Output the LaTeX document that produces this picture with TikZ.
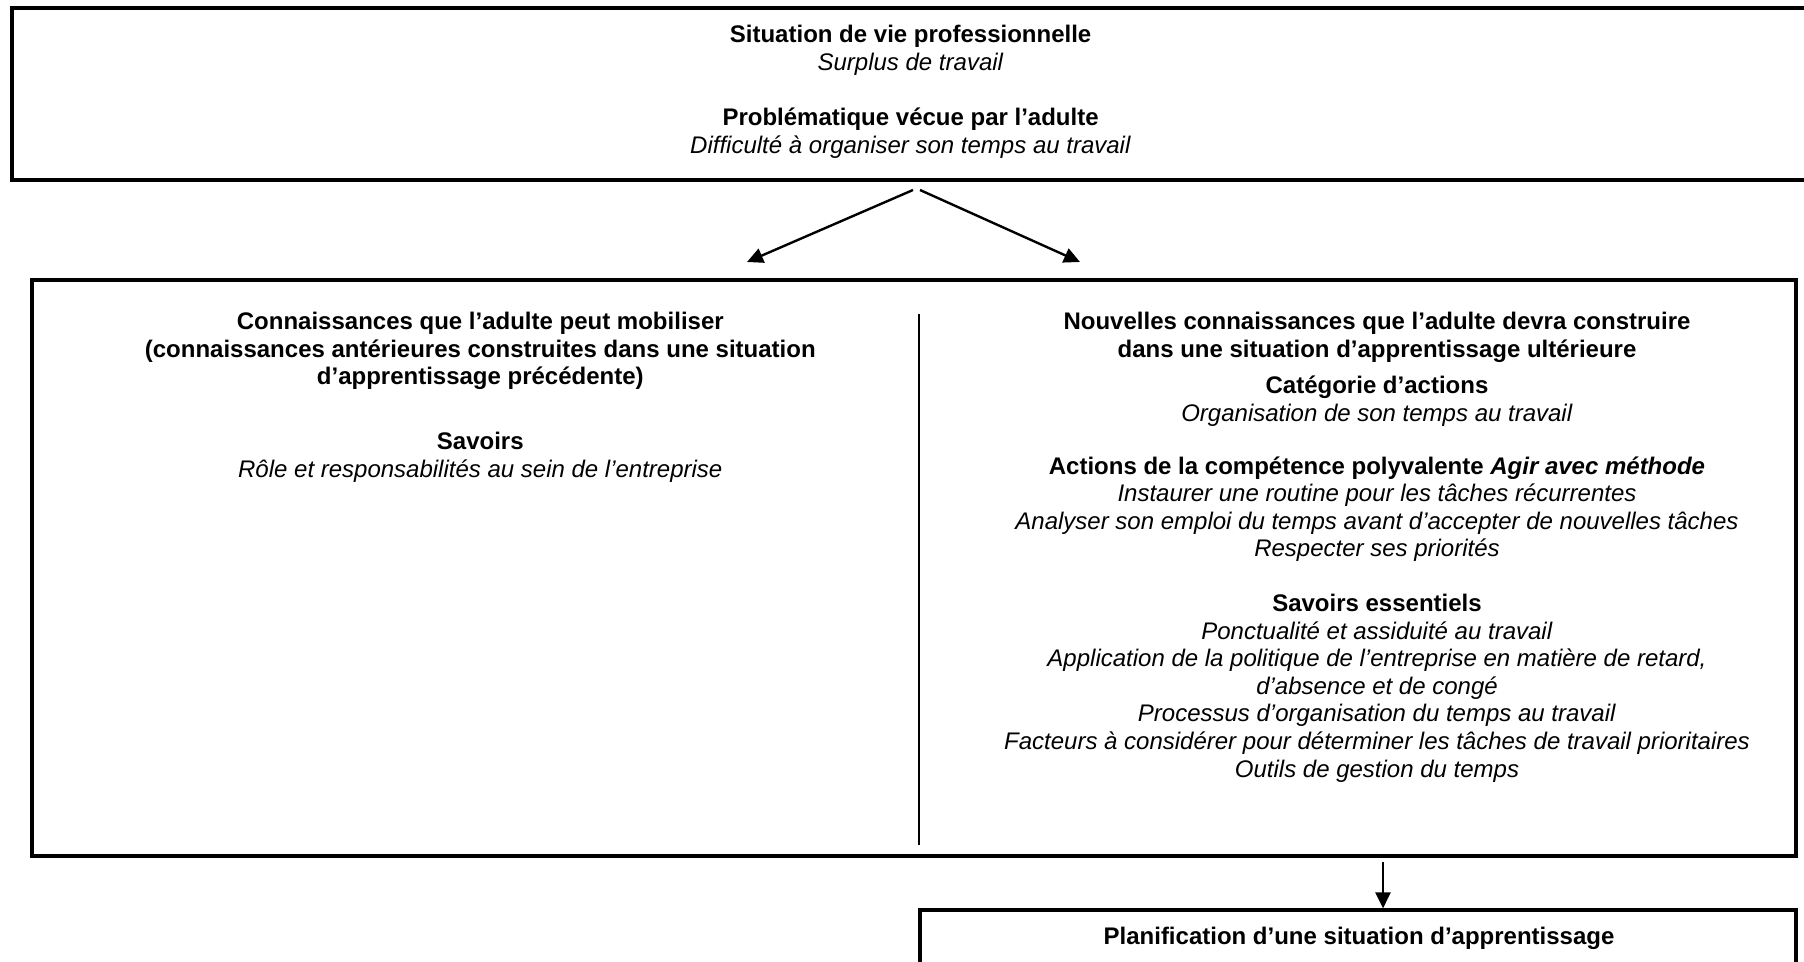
\documentclass[tikz,border=0pt]{standalone}
\usepackage{fontspec}
\setmainfont{Liberation Sans}
\usetikzlibrary{arrows.meta}
\begin{document}
\begin{tikzpicture}[x=0.5pt,y=-0.5pt,
  box/.style={draw=black,line width=2pt,rectangle,inner sep=0pt,fill=none},
  txt/.style={align=center,inner sep=0pt,font=\fontsize{12}{13.8}\selectfont},
  arr/.style={line width=1.2pt,-{Triangle[length=8pt,width=7.5pt]}},
  divline/.style={line width=0.7pt}]
\useasboundingbox (0,0) rectangle (1804,962);
\clip (0,0) rectangle (1804,962);
\fill[white] (0,0) rectangle (1804,962);
% boxes
\node[box,minimum width=899pt,minimum height=86.25pt] (top) at (911,94.25) {};
\node[box,minimum width=882pt,minimum height=288pt] (mid) at (914,568) {};
\node[box,line width=1.6pt,minimum width=438pt,minimum height=50pt] (plan) at (1358,960) {};
% texts top
\node[txt] (t1) at (910.6,50.2) {\textbf{Situation de vie professionnelle}\\\textit{Surplus de travail}};
\node[txt] (t2) at (910.6,133) {\textbf{Problématique vécue par l’adulte}\\\textit{Difficulté à organiser son temps au travail}};
% left column
\node[txt] (l1) at (480.3,351) {\textbf{Connaissances que l’adulte peut mobiliser}\\\textbf{(connaissances antérieures construites dans une situation}\\\textbf{d’apprentissage précédente)}};
\node[txt] (l2) at (480.3,457.5) {\textbf{Savoirs}\\\textit{Rôle et responsabilités au sein de l’entreprise}};
% right column
\node[txt] (r1) at (1377,337.3) {\textbf{Nouvelles connaissances que l’adulte devra construire}\\\textbf{dans une situation d’apprentissage ultérieure}};
\node[txt] (r2) at (1377,401.1) {\textbf{Catégorie d’actions}\\\textit{Organisation de son temps au travail}};
\node[txt] (r3) at (1377,509.2) {\textbf{Actions de la compétence polyvalente \textit{Agir avec méthode}}\\\textit{Instaurer une routine pour les tâches récurrentes}\\\textit{Analyser son emploi du temps avant d’accepter de nouvelles tâches}\\\textit{Respecter ses priorités}};
\node[txt] (r4) at (1377,688.1) {\textbf{Savoirs essentiels}\\\textit{Ponctualité et assiduité au travail}\\\textit{Application de la politique de l’entreprise en matière de retard,}\\\textit{d’absence et de congé}\\\textit{Processus d’organisation du temps au travail}\\\textit{Facteurs à considérer pour déterminer les tâches de travail prioritaires}\\\textit{Outils de gestion du temps}};
% bottom
\node[txt] (p1) at (1359,938.3) {\textbf{Planification d’une situation d’apprentissage}};
% divider
\coordinate (dv1) at (919,314);
\coordinate (dv2) at (919,845);
\draw[divline] (dv1) -- (dv2);
% arrows
\coordinate (s1) at (913,190);
\coordinate (e1) at (747,262);
\coordinate (s2) at (920,190);
\coordinate (e2) at (1080,262);
\draw[arr] (s1) -- (e1);
\draw[arr] (s2) -- (e2);
\coordinate (d0) at (1383,862);
\draw[arr] (d0) -- (d0 |- plan.north);
\end{tikzpicture}
\end{document}
